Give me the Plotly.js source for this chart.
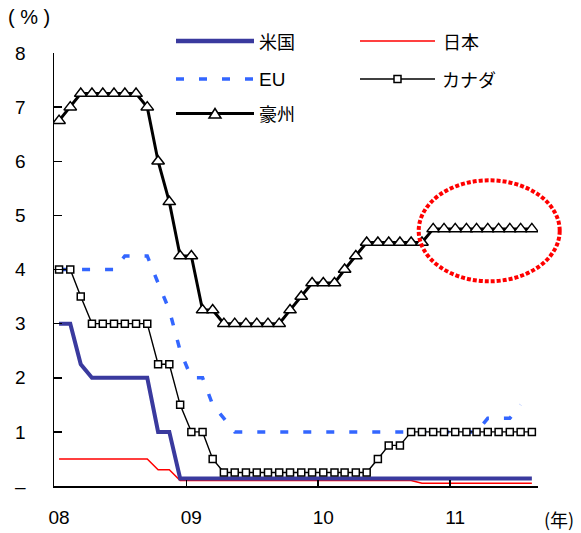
<!DOCTYPE html>
<html>
<head>
<meta charset="utf-8">
<script src="https://cdn.plot.ly/plotly-3.0.1.min.js"></script>
<style>
html,body{margin:0;padding:0;background:#ffffff;}
#chart{width:581px;height:533px;}
</style>
</head>
<body>
<div id="chart"></div>
<script>
// Monthly observations, Jan 2008 - Aug 2011
const months = [
  "2008-01-15","2008-02-15","2008-03-15","2008-04-15","2008-05-15","2008-06-15",
  "2008-07-15","2008-08-15","2008-09-15","2008-10-15","2008-11-15","2008-12-15",
  "2009-01-15","2009-02-15","2009-03-15","2009-04-15","2009-05-15","2009-06-15",
  "2009-07-15","2009-08-15","2009-09-15","2009-10-15","2009-11-15","2009-12-15",
  "2010-01-15","2010-02-15","2010-03-15","2010-04-15","2010-05-15","2010-06-15",
  "2010-07-15","2010-08-15","2010-09-15","2010-10-15","2010-11-15","2010-12-15",
  "2011-01-15","2011-02-15","2011-03-15","2011-04-15","2011-05-15","2011-06-15",
  "2011-07-15","2011-08-15"
];

const seriesNames = ["米国", "日本", "EU", "カナダ", "豪州"];

const usRate = [
  3.0, 3.0, 2.25, 2.0, 2.0, 2.0, 2.0, 2.0, 2.0, 1.0, 1.0, 0.14,
  0.14, 0.14, 0.14, 0.14, 0.14, 0.14, 0.14, 0.14, 0.14, 0.14, 0.14, 0.14,
  0.14, 0.14, 0.14, 0.14, 0.14, 0.14, 0.14, 0.14, 0.14, 0.14, 0.14, 0.14,
  0.14, 0.14, 0.14, 0.14, 0.14, 0.14, 0.14, 0.14
];

const japanRate = [
  0.5, 0.5, 0.5, 0.5, 0.5, 0.5, 0.5, 0.5, 0.5, 0.3, 0.3, 0.1,
  0.1, 0.1, 0.1, 0.1, 0.1, 0.1, 0.1, 0.1, 0.1, 0.1, 0.1, 0.1,
  0.1, 0.1, 0.1, 0.1, 0.1, 0.1, 0.1, 0.1, 0.1, 0.05, 0.05, 0.05,
  0.05, 0.05, 0.05, 0.05, 0.05, 0.05, 0.05, 0.05
];

const euRate = [
  4.0, 4.0, 4.0, 4.0, 4.0, 4.0, 4.25, 4.25, 4.25, 3.75, 3.25, 2.5,
  2.0, 2.0, 1.5, 1.25, 1.0, 1.0, 1.0, 1.0, 1.0, 1.0, 1.0, 1.0,
  1.0, 1.0, 1.0, 1.0, 1.0, 1.0, 1.0, 1.0, 1.0, 1.0, 1.0, 1.0,
  1.0, 1.0, 1.0, 1.25, 1.25, 1.25, 1.5
];

const canadaRate = [
  4.0, 4.0, 3.5, 3.0, 3.0, 3.0, 3.0, 3.0, 3.0, 2.25, 2.25, 1.5,
  1.0, 1.0, 0.5, 0.25, 0.25, 0.25, 0.25, 0.25, 0.25, 0.25, 0.25, 0.25,
  0.25, 0.25, 0.25, 0.25, 0.25, 0.5, 0.75, 0.75, 1.0, 1.0, 1.0, 1.0,
  1.0, 1.0, 1.0, 1.0, 1.0, 1.0, 1.0, 1.0
];

const australiaRate = [
  6.75, 7.0, 7.25, 7.25, 7.25, 7.25, 7.25, 7.25, 7.0, 6.0, 5.25, 4.25,
  4.25, 3.25, 3.25, 3.0, 3.0, 3.0, 3.0, 3.0, 3.0, 3.25, 3.5, 3.75,
  3.75, 3.75, 4.0, 4.25, 4.5, 4.5, 4.5, 4.5, 4.5, 4.5, 4.75, 4.75,
  4.75, 4.75, 4.75, 4.75, 4.75, 4.75, 4.75, 4.75
];

const yTickVals = [0, 1, 2, 3, 4, 5, 6, 7, 8];
const yTickText = ["–", "1", "2", "3", "4", "5", "6", "7", "8"];
const xTickVals = ["2008-01-01", "2009-01-01", "2010-01-01", "2011-01-01"];
const xTickText = ["08", "09", "10", "11"];

// ---- styling ----
const NAVY = "#3A3A9E", RED = "#FF0000", BLUE = "#3366FF", BLACK = "#000000";
const EU_DASH = "8px,15px";
const NUM_FONT = "Liberation Sans, Arial, sans-serif";
const JP_FONT = "Noto Sans CJK JP, Liberation Sans, sans-serif";

const M = {l: 54, r: 43, t: 53, b: 47};
const W = 581, H = 533;
const PW = W - M.l - M.r, PH = H - M.t - M.b;
const px = v => (v - M.l) / PW;          // pixel x -> paper x
const py = v => (M.t + PH - v) / PH;     // pixel y -> paper y

const traces = [
  {x: months, y: japanRate, name: seriesNames[1], mode: "lines",
   line: {color: RED, width: 1.5}},
  {x: months, y: usRate, name: seriesNames[0], mode: "lines",
   line: {color: NAVY, width: 4}},
  {x: months.slice(0, euRate.length), y: euRate, name: seriesNames[2], mode: "lines",
   line: {color: BLUE, width: 3.5, dash: EU_DASH}},
  {x: months, y: canadaRate, name: seriesNames[3], mode: "lines+markers",
   line: {color: BLACK, width: 1.4},
   marker: {symbol: "square", size: 7, color: "#ffffff", line: {color: BLACK, width: 1.5}}},
  {x: months, y: australiaRate, name: seriesNames[4], mode: "lines+markers",
   line: {color: BLACK, width: 3},
   marker: {symbol: "triangle-up", size: 11, color: "#ffffff", line: {color: BLACK, width: 1.5}}}
];

// manual legend (2 columns, long sample lines)
const colA = [176, 254], colB = [360, 435];
const rows = [41, 79, 113.5];
const shapes = [
  {type: "line", xref: "paper", yref: "paper", x0: px(colA[0]), x1: px(colA[1]), y0: py(rows[0]), y1: py(rows[0]),
   line: {color: NAVY, width: 4.5}},
  {type: "line", xref: "paper", yref: "paper", x0: px(colB[0]), x1: px(colB[1]), y0: py(rows[0]), y1: py(rows[0]),
   line: {color: RED, width: 1.5}},
  {type: "line", xref: "paper", yref: "paper", x0: px(colA[0]), x1: px(colA[1]), y0: py(rows[1]), y1: py(rows[1]),
   line: {color: BLUE, width: 3.5, dash: EU_DASH}},
  {type: "line", xref: "paper", yref: "paper", x0: px(colB[0]), x1: px(colB[1]), y0: py(rows[1]), y1: py(rows[1]),
   line: {color: BLACK, width: 1.4}},
  {type: "rect", xref: "paper", yref: "paper", xsizemode: "pixel", ysizemode: "pixel",
   xanchor: px((colB[0] + colB[1]) / 2), yanchor: py(rows[1]), x0: -3.5, x1: 3.5, y0: -3.5, y1: 3.5,
   fillcolor: "#ffffff", line: {color: BLACK, width: 1.5}},
  {type: "line", xref: "paper", yref: "paper", x0: px(colA[0]), x1: px(colA[1]), y0: py(rows[2]), y1: py(rows[2]),
   line: {color: BLACK, width: 3}},
  {type: "path", xref: "paper", yref: "paper", xsizemode: "pixel", ysizemode: "pixel",
   xanchor: px((colA[0] + colA[1]) / 2), yanchor: py(rows[2]), path: "M-6,-4.5 L6,-4.5 L0,5 Z",
   fillcolor: "#ffffff", line: {color: BLACK, width: 1.5}},
  // red dotted ellipse highlight
  {type: "circle", xref: "paper", yref: "paper", x0: px(418.7), x1: px(559.7), y0: py(281.3), y1: py(180.3),
   line: {color: RED, width: 4, dash: "4px,2px"}}
];

const annFont = {family: JP_FONT, size: 18, color: BLACK};
const annotations = [
  {xref: "paper", yref: "paper", x: px(257), y: py(rows[0]), xanchor: "left", yanchor: "middle",
   text: seriesNames[0], showarrow: false, font: annFont},
  {xref: "paper", yref: "paper", x: px(441), y: py(rows[0]), xanchor: "left", yanchor: "middle",
   text: seriesNames[1], showarrow: false, font: annFont},
  {xref: "paper", yref: "paper", x: px(257), y: py(rows[1]), xanchor: "left", yanchor: "middle",
   text: seriesNames[2], showarrow: false, font: {family: NUM_FONT, size: 19, color: BLACK}},
  {xref: "paper", yref: "paper", x: px(440), y: py(rows[1]), xanchor: "left", yanchor: "middle",
   text: seriesNames[3], showarrow: false, font: annFont},
  {xref: "paper", yref: "paper", x: px(257), y: py(rows[2]), xanchor: "left", yanchor: "middle",
   text: seriesNames[4], showarrow: false, font: annFont},
  {xref: "paper", yref: "paper", x: px(29), y: py(17.5), xanchor: "center", yanchor: "middle",
   text: "( % )", showarrow: false, font: {family: NUM_FONT, size: 20, color: BLACK}},
  {xref: "paper", yref: "paper", x: px(559), y: py(519), xanchor: "center", yanchor: "middle",
   text: "(年)", showarrow: false, font: {family: JP_FONT, size: 18, color: BLACK}}
];

const layout = {
  width: W, height: H,
  margin: M,
  paper_bgcolor: "#ffffff", plot_bgcolor: "#ffffff",
  showlegend: false,
  xaxis: {
    type: "date", range: ["2008-01-01", "2011-09-01"],
    tickmode: "array", tickvals: xTickVals, ticktext: xTickText,
    ticks: "inside", ticklen: 6, tickwidth: 1.5, tickcolor: BLACK,
    showline: true, linecolor: BLACK, linewidth: 1.5,
    showgrid: false, zeroline: false,
    tickfont: {family: NUM_FONT, size: 19, color: BLACK},
    ticklabelstandoff: 14, ticklabelshift: 5
  },
  yaxis: {
    range: [0, 8],
    tickmode: "array", tickvals: yTickVals, ticktext: yTickText,
    ticks: "inside", ticklen: 8, tickwidth: 1.5, tickcolor: BLACK,
    showline: true, linecolor: BLACK, linewidth: 1.5,
    showgrid: false, zeroline: false,
    tickfont: {family: NUM_FONT, size: 19, color: BLACK},
    ticklabelstandoff: 23
  },
  shapes: shapes,
  annotations: annotations
};

Plotly.newPlot("chart", traces, layout, {staticPlot: true, displayModeBar: false});
</script>
</body>
</html>
